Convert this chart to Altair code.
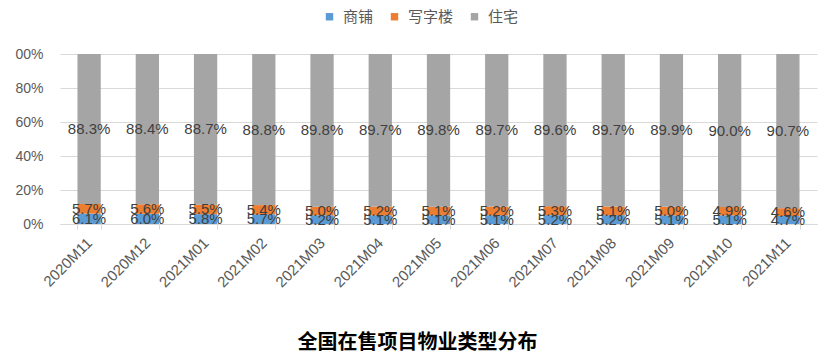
import altair as alt
import pandas as pd

months = ["2020M11", "2020M12", "2021M01", "2021M02", "2021M03", "2021M04", "2021M05",
          "2021M06", "2021M07", "2021M08", "2021M09", "2021M10", "2021M11"]
series = ["商铺", "写字楼", "住宅"]
shop = [6.1, 6.0, 5.8, 5.7, 5.2, 5.1, 5.1, 5.1, 5.2, 5.2, 5.1, 5.1, 4.7]
office = [5.7, 5.6, 5.5, 5.4, 5.0, 5.2, 5.1, 5.2, 5.3, 5.1, 5.0, 4.9, 4.6]
house = [88.3, 88.4, 88.7, 88.8, 89.8, 89.7, 89.8, 89.7, 89.6, 89.7, 89.9, 90.0, 90.7]
colors = ["#5B9BD5", "#ED7D31", "#A5A5A5"]

rows = []
for i, m in enumerate(months):
    for k, (s, vals) in enumerate(zip(series, [shop, office, house])):
        rows.append({"month": m, "series": s, "value": vals[i], "order": k})
df = pd.DataFrame(rows)

FONT = "Liberation Sans, Noto Sans CJK SC, sans-serif"

base = alt.Chart(df).transform_stack(
    stack="value", as_=["v0", "v1"], groupby=["month"], sort=[alt.SortField("order")], offset="normalize"
).transform_calculate(
    mid="(datum.v0 + datum.v1) / 2",
    label="format(datum.value, '.1f') + '%'"
)

x_axis = alt.Axis(labelAngle=-45, labelFontSize=15, labelColor="#595959", labelFont=FONT,
                  tickBand="extent", ticks=True, tickSize=5, tickColor="#D9D9D9",
                  domainColor="#D9D9D9", grid=False, labelPadding=6, labelOffset=-5, title=None)
x_scale = alt.Scale(paddingInner=0.6, paddingOuter=0.3)
y_scale = alt.Scale(domain=[0, 1], nice=False)
y_axis = alt.Axis(values=[0, 0.2, 0.4, 0.6, 0.8, 1.0], labelOverlap=False,
                  labelExpr="datum.value >= 1 ? '00%' : format(datum.value, '.0%')",
                  labelFontSize=14, labelColor="#595959", labelFont=FONT,
                  domain=False, ticks=False, grid=True, gridColor="#D9D9D9",
                  labelPadding=17, title=None)

bars = base.mark_bar().encode(
    x=alt.X("month:N", sort=months, title=None, scale=x_scale, axis=x_axis),
    y=alt.Y("v0:Q", title=None, scale=y_scale, axis=y_axis),
    y2="v1:Q",
    color=alt.Color("series:N", scale=alt.Scale(domain=series, range=colors),
                    legend=alt.Legend(title=None, orient="none", direction="horizontal",
                                      legendX=262, legendY=-45, symbolType="square", symbolSize=55,
                                      labelFontSize=15, labelColor="#595959", labelFont=FONT,
                                      columnPadding=13, symbolStrokeWidth=0, labelOffset=6,
                                      padding=0)),
)

labels = base.mark_text(fontSize=15, color="#404040", font=FONT).encode(
    x=alt.X("month:N", sort=months, title=None, scale=x_scale, axis=x_axis),
    y=alt.Y("mid:Q", title=None, scale=y_scale, axis=y_axis),
    text="label:N",
)

chart = alt.layer(bars, labels).properties(
    width=757, height=170,
    autosize=alt.AutoSizeParams(type="none"),
    padding={"left": 52, "top": 46, "right": 10, "bottom": 132},
    title=alt.Title("全国在售项目物业类型分布", orient="bottom", fontSize=20, fontWeight="bold",
                    color="#000000", font="Noto Sans CJK SC", offset=43, dx=-21),
).configure_view(stroke=None)

chart.save("out.html", embed_options={"renderer": "svg", "actions": False})
